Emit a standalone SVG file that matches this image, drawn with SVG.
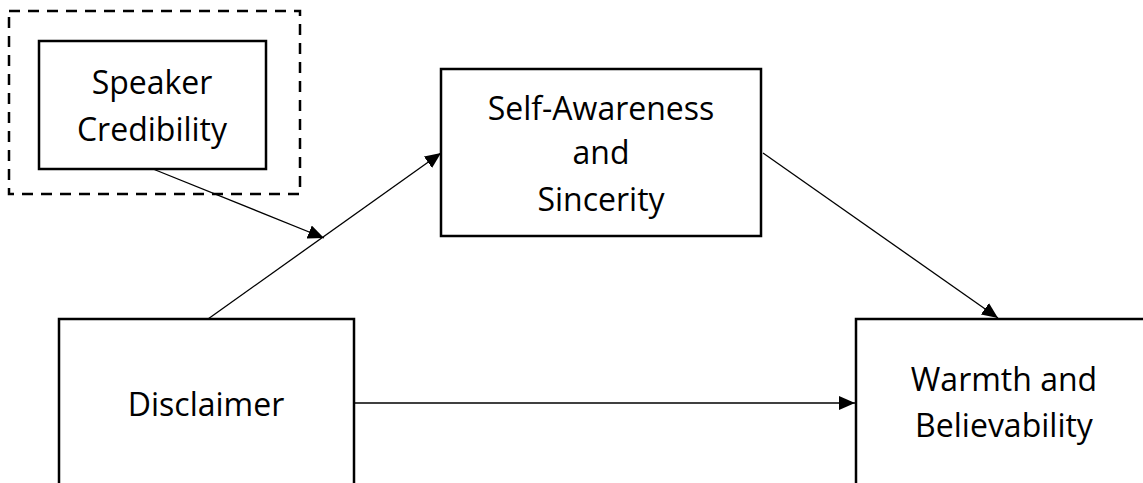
<svg xmlns="http://www.w3.org/2000/svg" width="1143" height="483" viewBox="0 0 1143 483">
  <style>
    .box { fill: #ffffff; stroke: #000000; stroke-width: 2.5; }
    .dash { fill: none; stroke: #000000; stroke-width: 2.5; stroke-dasharray: 11 8; }
    .lbl { font-family: "Open Sans", "Noto Sans", sans-serif; font-size: 32px; fill: #000000; text-anchor: middle; }
    .conn { stroke: #000000; stroke-width: 1.3; fill: none; marker-end: url(#arr); }
  </style>
  <defs>
    <marker id="arr" viewBox="0 0 16 14" refX="16" refY="7" markerWidth="16" markerHeight="14" markerUnits="userSpaceOnUse" orient="auto">
      <path d="M0,0 L16,7 L0,14 Z" fill="#000000"/>
    </marker>
  </defs>
  <rect width="1143" height="483" fill="#ffffff"/>

  <g id="moderator-frame">
    <rect class="dash" x="9" y="11" width="291" height="183"/>
  </g>

  <g id="speaker-credibility">
    <rect class="box" x="39" y="41" width="227" height="128"/>
    <text class="lbl" x="152" y="94">Speaker</text>
    <text class="lbl" x="152" y="141">Credibility</text>
  </g>

  <g id="self-awareness">
    <rect class="box" x="441" y="69" width="320" height="167"/>
    <text class="lbl" x="601" y="120">Self-Awareness</text>
    <text class="lbl" x="601" y="164">and</text>
    <text class="lbl" x="601" y="211">Sincerity</text>
  </g>

  <g id="disclaimer">
    <rect class="box" x="59" y="319" width="295" height="190"/>
    <text class="lbl" x="206" y="416">Disclaimer</text>
  </g>

  <g id="warmth">
    <rect class="box" x="856" y="319" width="310" height="190"/>
    <text class="lbl" x="1004" y="391">Warmth and</text>
    <text class="lbl" x="1004" y="437">Believability</text>
  </g>

  <g id="connectors">
    <line class="conn" x1="208" y1="319" x2="441" y2="153"/>
    <line class="conn" x1="153" y1="169" x2="324" y2="238"/>
    <line class="conn" x1="763" y1="153" x2="998" y2="318"/>
    <line class="conn" x1="354" y1="403" x2="855" y2="403"/>
  </g>
</svg>
